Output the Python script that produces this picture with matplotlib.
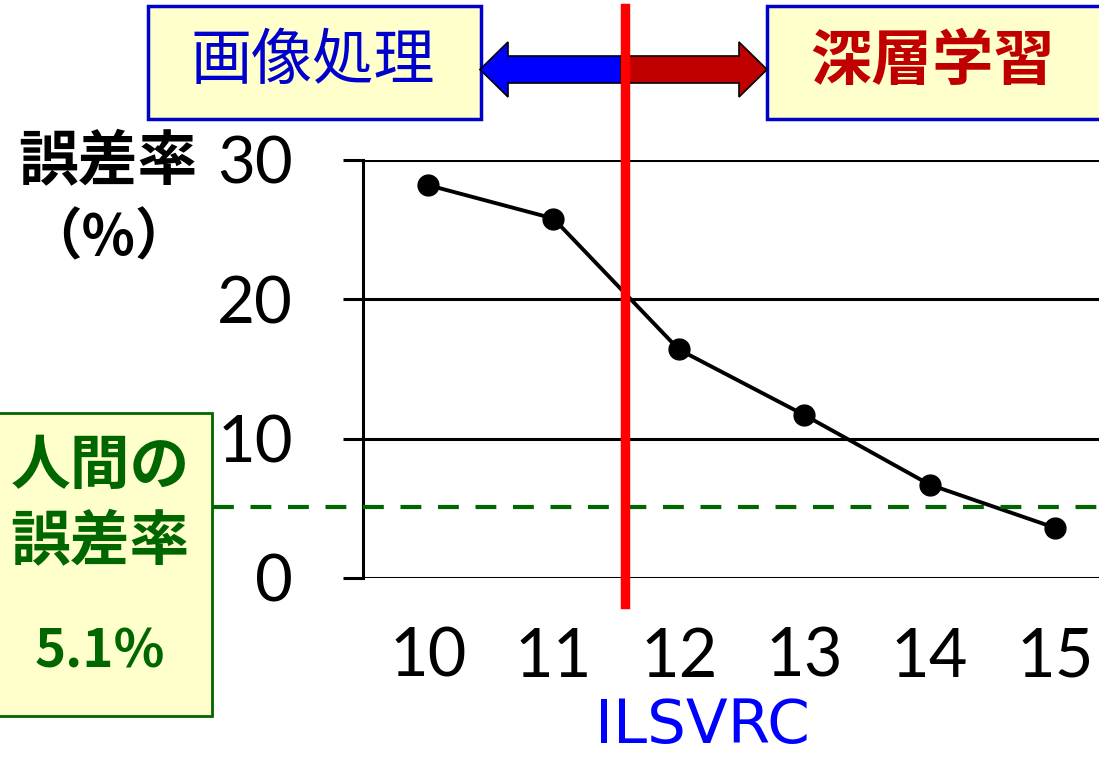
import matplotlib.pyplot as plt
from matplotlib.patches import Rectangle, Polygon

# データ (ILSVRC 誤差率)
years = [10, 11, 12, 13, 14, 15]
year_labels = ['10', '11', '12', '13', '14', '15']
error_rate = [28.2, 25.8, 16.4, 11.7, 6.7, 3.6]
y_ticks = [0, 10, 20, 30]
human_error = 5.1
split_year = 11.57

jp = ['Noto Sans CJK JP', 'DejaVu Sans']

fig = plt.figure(figsize=(10.99, 7.57), dpi=100)

# 注釈用のピクセル座標の軸
over = fig.add_axes([0, 0, 1, 1], zorder=1)
over.set_xlim(0, 1099)
over.set_ylim(757, 0)
over.axis('off')

# メインの軸
ax = fig.add_axes([363 / 1099, 1 - 578 / 757, 736 / 1099, 418 / 757], zorder=2)
ax.set_facecolor('none')
ax.plot(years, error_rate, color='black', lw=2.8, marker='o', ms=15, zorder=3)
ax.set_xlim(9.482, 15.35)
ax.set_ylim(0, 30)
ax.set_yticks(y_ticks)
ax.set_xticks(years)
ax.set_xticklabels(year_labels)
for s in ['top', 'right', 'bottom']:
    ax.spines[s].set_visible(False)
ax.spines['left'].set_linewidth(2.2)
ax.grid(axis='y', color='black', lw=2.2)
ax.set_axisbelow(True)
ax.tick_params(axis='y', length=14.4, width=2.2, pad=36, labelsize=47)
ax.tick_params(axis='x', length=0, pad=35, labelsize=48)
for lab in ax.get_xticklabels() + ax.get_yticklabels():
    lab.set_family('Lato')

# 境界線と人間の誤差率
ax.axvline(split_year, ymin=-0.062, ymax=1.364, color='#FF0000', lw=6.8, clip_on=False, zorder=5)
ax.axhline(human_error, xmin=-0.204, xmax=1, color='#006600', lw=3, ls=(0, (5, 4)), clip_on=False, zorder=4)

# 上のボックス
over.add_patch(Rectangle((148, 6), 333, 113, facecolor='#FFFFCC', edgecolor='#0000CC', lw=2.5))
over.add_patch(Rectangle((767, 6), 340, 113, facecolor='#FFFFCC', edgecolor='#0000CC', lw=2.5, clip_on=False))
over.text(313, 62, '画像処理', family=jp, fontsize=44, color='#0000CC', ha='center', va='center')
over.text(932, 62, '深層学習', family=jp, fontsize=44, fontweight='bold', color='#C00000', ha='center', va='center')

# 両方向の矢印
over.add_patch(Polygon([(480, 69.5), (508, 42), (508, 56), (621, 56), (621, 83), (508, 83), (508, 97)],
                       closed=True, facecolor='#0000FF', edgecolor='black', lw=1.2))
over.add_patch(Polygon([(621, 56), (739, 56), (739, 42), (767, 69.5), (739, 97), (739, 83), (621, 83)],
                       closed=True, facecolor='#C00000', edgecolor='black', lw=1.2))

# 軸ラベル
over.text(108, 163, '誤差率', family=jp, fontsize=43, fontweight='bold', color='black', ha='center', va='center')
over.text(108, 238, '（%）', family=jp, fontsize=40, fontweight='bold', color='black', ha='center', va='center')
over.text(702, 726, 'ILSVRC', family='DejaVu Sans', fontsize=44, color='#0000FF', ha='center', va='center')

# 人間の誤差率ボックス
over.add_patch(Rectangle((-5, 413), 217, 303, facecolor='#FFFFCC', edgecolor='#006600', lw=2))
over.text(100, 467, '人間の', family=jp, fontsize=43, fontweight='bold', color='#006600', ha='center', va='center')
over.text(100, 543, '誤差率', family=jp, fontsize=43, fontweight='bold', color='#006600', ha='center', va='center')
over.text(100, 652, '5.1%', family=jp, fontsize=38, fontweight='bold', color='#006600', ha='center', va='center')

plt.savefig('out.png', dpi=100)
plt.close(fig)
